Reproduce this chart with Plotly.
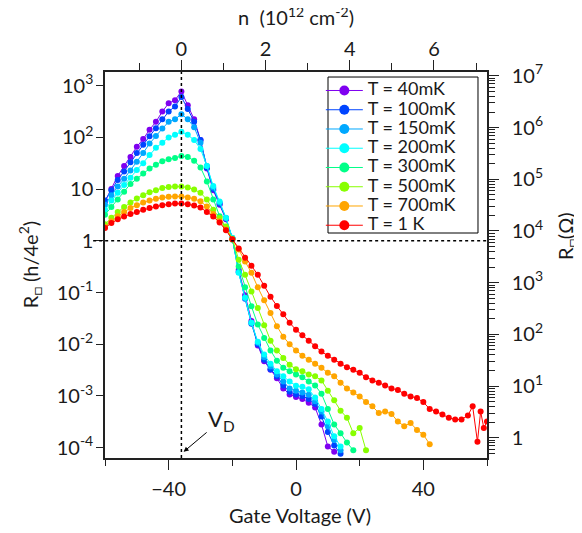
import plotly.graph_objects as go

# ---- data --------------------------------------------------------------- #
labels = ["T = 40mK", "T = 100mK", "T = 150mK", "T = 200mK",
          "T = 300mK", "T = 500mK", "T = 700mK", "T = 1 K"]
colors = ["#7f00f0", "#0044ff", "#00a8ff", "#00ffff",
          "#00ff88", "#88ff00", "#ffa500", "#ff0000"]

gate_v = [-60, -58, -56, -54, -52, -50, -48, -46, -44, -42, -40, -38, -36, -34, -32, -30, -28, -26, -24, -22, -20,
          -18, -16, -14, -12, -10, -8, -6, -4, -2, 0, 2, 4, 6, 8, 10, 12, 14, 16, 18, 20,
          22, 24, 26, 28, 30, 32, 34, 36, 38, 40, 42, 44, 46, 48, 50, 52, 54]
red_tail_v = [55.5, 57, 58, 59, 60]

# R_sq in units of h/4e^2
r_40mk = [5.8, 10, 18, 28, 42, 66, 93, 141, 200, 316, 457, 525, 776,
          417, 224, 89, 25, 9.5, 5.0, 2.6, 1.12,
          0.275, 0.089, 0.028, 0.0095, 0.0047, 0.0032, 0.0022, 0.0014, 0.00107, 0.00095,
          0.00087, 0.00074, 0.0006, 0.00028, 0.000105, 0.000083]
r_100mk = [6.0, 9.5, 15, 22, 33, 50, 72, 105, 151, 224, 316, 398, 603,
           355, 200, 89, 26, 10, 5.2, 2.7, 1.12,
           0.25, 0.076, 0.025, 0.01, 0.005, 0.0033, 0.0024, 0.0016, 0.0012, 0.00107,
           0.001, 0.00087, 0.0007, 0.0004, 0.0002, 0.00011, 0.000076]
r_150mk = [5.0, 7.6, 11.2, 15.8, 22.9, 33.9, 50, 76, 107, 148, 200, 224, 282,
           224, 158, 79, 28, 10.7, 5.5, 2.75, 1.12,
           0.25, 0.079, 0.026, 0.0107, 0.0056, 0.0037, 0.0026, 0.0019, 0.0014, 0.00126,
           0.00117, 0.00105, 0.00079, 0.0005, 0.00026, 0.00014, 0.000089]
r_200mk = [4.0, 6.0, 8.5, 12, 16.6, 23.4, 31.6, 45.7, 63, 79, 100, 112, 129,
           112, 89, 60, 28, 11.5, 5.75, 2.8, 1.15,
           0.24, 0.079, 0.026, 0.0112, 0.0063, 0.0042, 0.003, 0.0024, 0.0019, 0.00158,
           0.0015, 0.00135, 0.00093, 0.00056, 0.00032, 0.000166, 0.000105]
r_300mk = [3.2, 4.5, 6.3, 8.9, 12.6, 15.8, 20, 25, 29.5, 34.7, 38, 40, 43.6,
           41.7, 35.5, 26.3, 14.1, 6.3, 3.0, 1.66, 1.05,
           0.32, 0.126, 0.054, 0.024, 0.0132, 0.0076, 0.0048, 0.0035, 0.003, 0.0026,
           0.0023, 0.0019, 0.0016, 0.0011, 0.00056, 0.00028, 0.00019, 0.000126, 0.000089]
r_500mk = [2.1, 2.8, 3.6, 4.5, 5.5, 6.6, 7.6, 8.7, 9.5, 10.5, 11, 11.2, 11.2,
           10.7, 9.8, 8.5, 6.3, 4.0, 2.75, 1.9, 1.1,
           0.43, 0.22, 0.105, 0.05, 0.0234, 0.0117, 0.0076, 0.0054, 0.004, 0.0033,
           0.003, 0.0026, 0.0024, 0.002, 0.00126, 0.00083, 0.00052, 0.00038, 0.00019, 0.00024,
           0.000089]
r_700mk = [1.86, 2.4, 3.0, 3.6, 4.3, 4.9, 5.5, 6.0, 6.5, 6.9, 7.1, 7.2, 7.2,
           6.9, 6.5, 5.8, 4.6, 3.3, 2.4, 1.66, 1.07,
           0.68, 0.4, 0.24, 0.126, 0.071, 0.04, 0.0224, 0.014, 0.01, 0.0076,
           0.006, 0.005, 0.0042, 0.0035, 0.0028, 0.0024, 0.0018, 0.0014, 0.00117, 0.00098,
           0.00076, 0.00063, 0.00047, 0.0005, 0.00045, 0.00032, 0.00026, 0.0003, 0.00022, 0.000178,
           0.000117]
r_1k = [1.78, 2.2, 2.6, 2.95, 3.3, 3.6, 4.0, 4.3, 4.6, 4.9, 5.1, 5.25, 5.25,
        5.1, 4.8, 4.4, 3.6, 2.95, 2.25, 1.6, 1.07,
        0.71, 0.47, 0.33, 0.22, 0.135, 0.083, 0.055, 0.038, 0.026, 0.019,
        0.015, 0.0117, 0.0091, 0.0072, 0.006, 0.005, 0.0042, 0.0036, 0.0032, 0.0028,
        0.0023, 0.002, 0.0018, 0.0016, 0.0014, 0.0013, 0.0011, 0.00098, 0.00091, 0.00076,
        0.00056, 0.0005, 0.00044, 0.00038, 0.00035, 0.00035, 0.00042,
        0.00063, 0.00013, 0.0005, 0.00024, 0.00032]

curves = [r_40mk, r_100mk, r_150mk, r_200mk, r_300mk, r_500mk, r_700mk, r_1k]

v_dirac = -36          # V_D
r_q = 6453             # h/4e^2 in ohm
n_range = [-1.81, 7.26]  # top axis, 1e12 cm^-2

left_vals = [1e-4, 1e-3, 1e-2, 1e-1, 1, 10, 100, 1000]
left_text = ["10<sup>-4</sup>", "10<sup>-3</sup>", "10<sup>-2</sup>", "10<sup>-1</sup>",
             "1", "10", "10<sup>2</sup>", "10<sup>3</sup>"]
right_vals = [1, 10, 100, 1e3, 1e4, 1e5, 1e6, 1e7]
right_text = ["1", "10<sup>1</sup>", "10<sup>2</sup>", "10<sup>3</sup>",
              "10<sup>4</sup>", "10<sup>5</sup>", "10<sup>6</sup>", "10<sup>7</sup>"]

# ------------------------------------------------------------------------- #
FONT = "Lato"
AX = "#222222"
fig = go.Figure()

for lab, col, r in zip(labels, colors, curves):
    xs = gate_v[:len(r)] if r is not r_1k else gate_v + red_tail_v
    fig.add_trace(go.Scatter(x=xs, y=r, mode="lines+markers", name=lab, showlegend=False,
                             line=dict(color=col, width=1), marker=dict(color=col, size=6)))

# legend-only entries with bigger symbols
for lab, col in zip(labels, colors):
    fig.add_trace(go.Scatter(x=[None], y=[None], mode="lines+markers",
                             name="<span style='font-size:18px'>" + lab + "</span>",
                             line=dict(color=col, width=1), marker=dict(color=col, size=10)))

ymin, ymax = -4.2, 3.265
y2_range = [ymin + 3.8097, ymax + 3.8097]

# invisible carrier so the n axis and the ohm axis get drawn
fig.add_trace(go.Scatter(x=n_range, y=[r_q * 10 ** ymin, r_q * 10 ** ymax], xaxis="x2", yaxis="y2",
                         mode="lines", line=dict(width=0), opacity=0,
                         showlegend=False, hoverinfo="skip"))

# page body has an 8px margin, so the figure is 8px smaller and shifted
fig.update_layout(
    width=574, height=525,
    margin=dict(l=97, r=95, t=64, b=75, autoexpand=False),
    paper_bgcolor="white", plot_bgcolor="white",
    font=dict(family=FONT, size=20, color="#1a1a1a"),
    showlegend=True,
    legend=dict(x=0.565, y=0.99, xanchor="left", yanchor="top",
                bgcolor="rgba(0,0,0,0)", borderwidth=0,
                font=dict(size=12.5), itemwidth=37, tracegroupgap=0),
    xaxis=dict(range=[-60, 60], tickvals=[-40, 0, 40], ticks="outside", ticklen=10,
               tickwidth=1.3, tickcolor=AX, showline=True, linecolor=AX, linewidth=1.5,
               showgrid=False, zeroline=False, ticklabelstandoff=2, automargin=False,
               minor=dict(tick0=-60, dtick=20, ticks="outside", ticklen=6, tickcolor=AX,
                          tickwidth=1.3, showgrid=False)),
    xaxis2=dict(range=n_range, overlaying="x", side="top", anchor="y2",
                tickvals=[0, 2, 4, 6], ticks="outside", ticklen=10, tickwidth=1.3,
                tickcolor=AX, showline=True, linecolor=AX, linewidth=1.5,
                showgrid=False, zeroline=False, automargin=False, ticklabelstandoff=-4,
                minor=dict(tick0=0, dtick=1, ticks="outside", ticklen=7, tickcolor=AX,
                           tickwidth=1.3, showgrid=False)),
    yaxis=dict(type="log", range=[ymin, ymax], tickvals=left_vals, ticktext=left_text,
               ticks="outside", ticklen=7, tickwidth=1.3, tickcolor=AX,
               showline=True, linecolor=AX, linewidth=1.5, showgrid=False,
               zeroline=False, ticklabelstandoff=-1, automargin=False),
    yaxis2=dict(type="log", overlaying="y", side="right", anchor="x2",
                range=y2_range, tickvals=right_vals, ticktext=right_text,
                ticks="outside", ticklen=10, tickwidth=1.3, tickcolor=AX,
                showline=True, linecolor=AX, linewidth=1.5, showgrid=False,
                zeroline=False, ticklabelstandoff=9, automargin=False,
                minor=dict(dtick="D1", ticks="outside", ticklen=6, tickcolor=AX,
                           tickwidth=1, showgrid=False)),
)

dash = "3px,3px"
fig.add_shape(type="line", xref="paper", yref="y", x0=-0.031, x1=1, y0=1, y1=1,
              line=dict(color="black", width=1.5, dash=dash))
fig.add_shape(type="line", xref="x", yref="paper", x0=v_dirac, x1=v_dirac, y0=0, y1=1,
              line=dict(color="black", width=1.5, dash=dash))
# legend frame
fig.add_shape(type="rect", xref="paper", yref="paper", x0=0.5838, x1=0.9764,
              y0=0.5829, y1=0.987, line=dict(color="black", width=1), fillcolor="white",
              layer="below")

fig.add_annotation(text="V<sub>D</sub>", x=-35.3, y=-4.08, xref="x", yref="y",
                   ax=38, ay=-32, showarrow=True, arrowhead=2, arrowsize=1,
                   arrowwidth=1, arrowcolor="black", font=dict(size=22))

titles = dict(showarrow=False, xref="paper", yref="paper", xanchor="center",
              yanchor="middle", font=dict(size=20))
fig.add_annotation(text="R<sub>□</sub> (h/4e<sup>2</sup>)", x=-0.196, y=0.5,
                   textangle=-90, **titles)
fig.add_annotation(text="R<sub>□</sub>(Ω)", x=1.207, y=0.575, textangle=-90, **titles)
fig.add_annotation(text="n  (10<sup>12</sup> cm<sup>-2</sup>)", x=0.5, y=1.145, **titles)
fig.add_annotation(text="Gate Voltage (V)", x=0.51, y=-0.148, **titles)

fig.write_html("out.html")
